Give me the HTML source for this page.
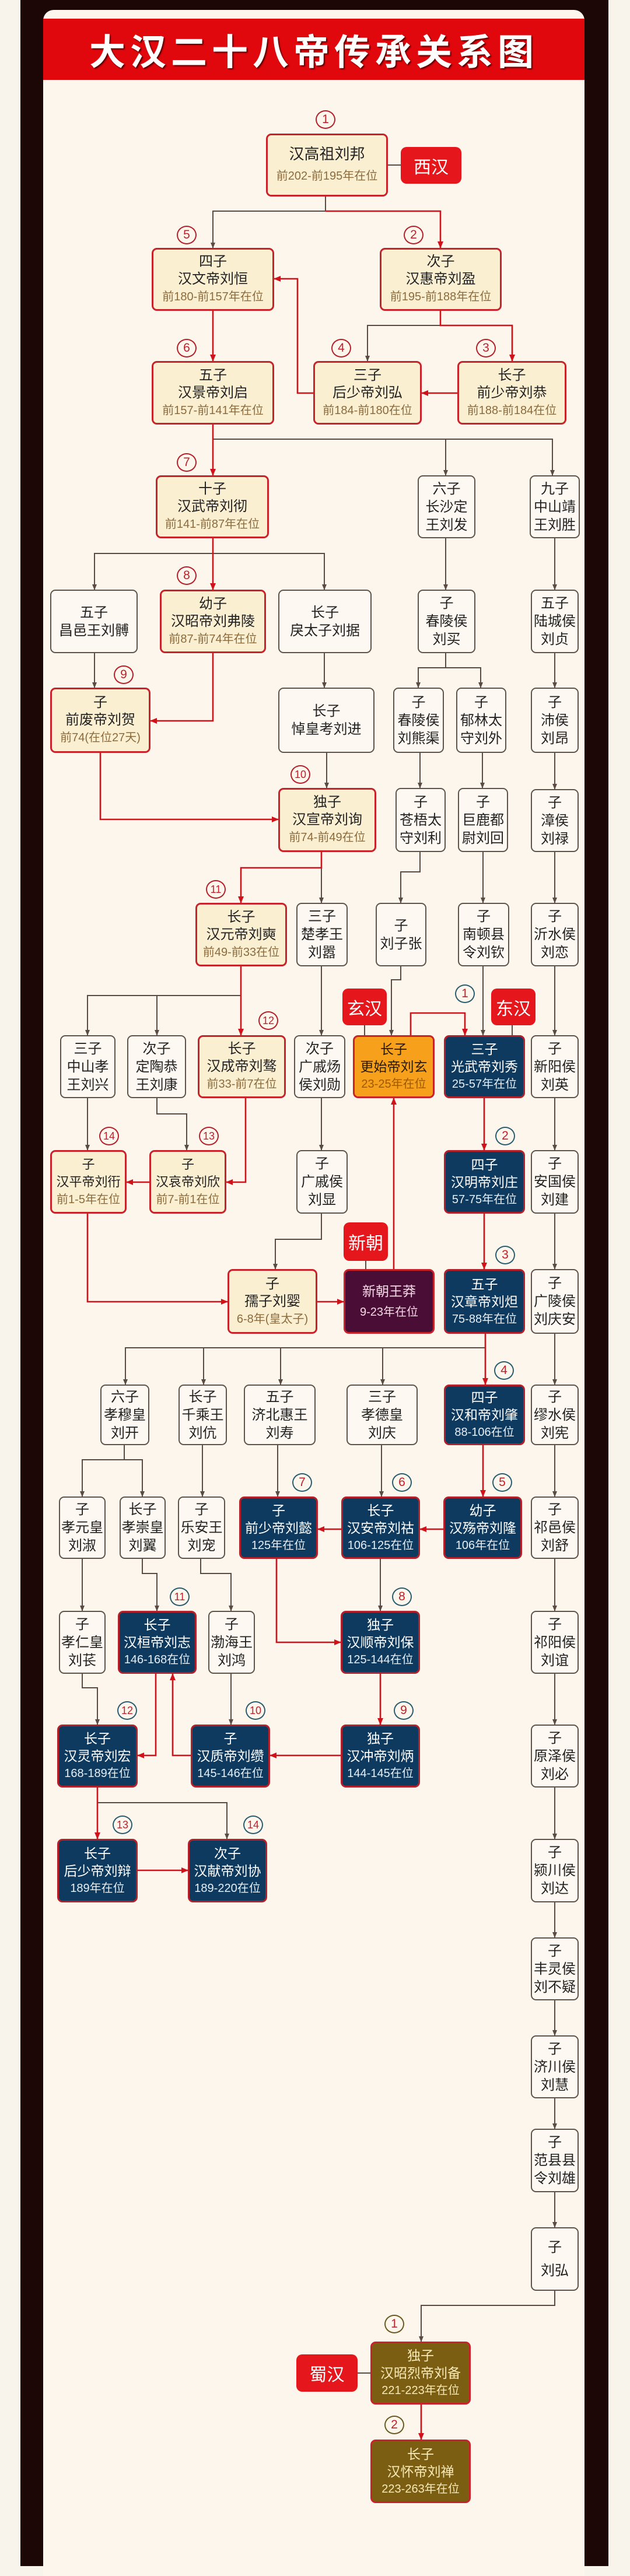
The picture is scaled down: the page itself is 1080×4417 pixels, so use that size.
<!DOCTYPE html>
<html><head><meta charset="utf-8">
<style>
*{margin:0;padding:0;box-sizing:border-box}
body{width:1080px;height:4359px;background:#f8f4ec;position:relative;overflow:hidden;font-family:"Liberation Sans","Noto Sans CJK SC",sans-serif;color:#222}
#frame{position:absolute;left:35px;top:0;width:1008px;height:4400px;background:#1c0606}
#panel{position:absolute;left:74px;top:17px;width:928px;height:4400px;background:#fcf6ec;border-radius:18px 18px 0 0}
#title{position:absolute;left:74px;top:32px;width:928px;height:105px;background:#e0070d;color:#fff;font-family:"Noto Sans CJK SC",sans-serif;font-weight:bold;font-size:62px;letter-spacing:8px;text-align:center;line-height:105px;text-shadow:2px 2px 2px #5a0000}
.n{position:absolute;border-radius:9px;display:flex;flex-direction:column;justify-content:center;align-items:center;text-align:center;line-height:30px;white-space:nowrap}
.e{background:#fbefd2;border:3px solid #c8232b;font-size:24px}
.p{background:#fdf9f2;border:2px solid #5f544c;font-size:24px;line-height:31px}
.b{background:#0e3a5f;border:3px solid #b3202a;color:#fff;font-size:23px}
.o{background:#f6a01c;border:3px solid #c8232b;color:#2a1a00;font-size:23px}
.m{background:#4a0d35;border:3px solid #c8232b;color:#f6d9e6;font-size:23px}
.v{background:#7b5e12;border:3px solid #c8232b;color:#f7eab8;font-size:23px}
.d{font-size:20px;color:#8b6b3c}
.b .d{color:#e6eef6}
.o .d{color:#9a5a00}
.m .d{color:#f6d9e6}
.v .d{color:#f7eab8}
.g{position:absolute;background:#e5161c;color:#fff;border-radius:10px;font-size:30px;display:flex;align-items:center;justify-content:center;font-family:"Noto Sans CJK SC",sans-serif}
.c{position:absolute;width:34px;height:32px;margin-left:-17px;margin-top:-16px;border:2px solid #b5202a;border-radius:50%;color:#c0202a;font-size:21px;line-height:28px;text-align:center;background:#fcf6ec}
.t{border-color:#2a5d70}
.s{border-color:#6b5a20}
svg{position:absolute;left:0;top:0}
</style></head><body>
<div id="frame"></div><div id="panel"></div>
<div id="title">大汉二十八帝传承关系图</div>

<svg width="1080" height="4359" viewBox="0 0 1080 4359">
<defs>
<marker id="a" markerWidth="10" markerHeight="10" refX="9" refY="5" orient="auto" markerUnits="userSpaceOnUse"><path d="M0,1 L10,5 L0,9 Z" fill="#5a4c44"/></marker>
<marker id="r" markerWidth="12" markerHeight="12" refX="11" refY="6" orient="auto" markerUnits="userSpaceOnUse"><path d="M0,1 L12,6 L0,11 Z" fill="#d0121b"/></marker>
</defs>
<g fill="none" stroke="#5a4c44" stroke-width="2">
<path d="M558,337 V362 H365 V425" marker-end="url(#a)"/>
<path d="M755,558 H630 V619" marker-end="url(#a)"/>
<path d="M365,753 H947 V815" marker-end="url(#a)"/>
<path d="M764,753 V815" marker-end="url(#a)"/>
<path d="M365,949 H162 V1011" marker-end="url(#a)"/>
<path d="M365,949 H556 V1011" marker-end="url(#a)"/>
<path d="M764,923 V1011" marker-end="url(#a)"/>
<path d="M951,923 V1011" marker-end="url(#a)"/>
<path d="M162,1120 V1179" marker-end="url(#a)"/>
<path d="M556,1120 V1179" marker-end="url(#a)"/>
<path d="M764,1120 V1145 H717 V1179" marker-end="url(#a)"/>
<path d="M764,1145 H824 V1179" marker-end="url(#a)"/>
<path d="M951,1120 V1179" marker-end="url(#a)"/>
<path d="M560,1291 V1351" marker-end="url(#a)"/>
<path d="M720,1291 V1351" marker-end="url(#a)"/>
<path d="M827,1291 V1351" marker-end="url(#a)"/>
<path d="M951,1291 V1353" marker-end="url(#a)"/>
<path d="M551,1488 V1548" marker-end="url(#a)"/>
<path d="M720,1461 V1495 H687 V1548" marker-end="url(#a)"/>
<path d="M828,1461 V1548" marker-end="url(#a)"/>
<path d="M951,1461 V1548" marker-end="url(#a)"/>
<path d="M413,1707 H150 V1775" marker-end="url(#a)"/>
<path d="M269,1707 V1775" marker-end="url(#a)"/>
<path d="M551,1657 V1775" marker-end="url(#a)"/>
<path d="M687,1657 V1680 H671 V1775" marker-end="url(#a)"/>
<path d="M828,1657 V1775" marker-end="url(#a)"/>
<path d="M951,1657 V1775" marker-end="url(#a)"/>
<path d="M150,1883 V1972" marker-end="url(#a)"/>
<path d="M269,1883 V1910 H320 V1972" marker-end="url(#a)"/>
<path d="M551,1883 V1972" marker-end="url(#a)"/>
<path d="M951,1883 V1972" marker-end="url(#a)"/>
<path d="M551,2081 V2125 H472 V2176" marker-end="url(#a)"/>
<path d="M951,2081 V2176" marker-end="url(#a)"/>
<path d="M832,2311 H215 V2374" marker-end="url(#a)"/>
<path d="M349,2311 V2374" marker-end="url(#a)"/>
<path d="M481,2311 V2374" marker-end="url(#a)"/>
<path d="M656,2311 V2374" marker-end="url(#a)"/>
<path d="M951,2287 V2374" marker-end="url(#a)"/>
<path d="M213,2478 V2503 H141 V2566" marker-end="url(#a)"/>
<path d="M213,2503 H244 V2566" marker-end="url(#a)"/>
<path d="M347,2478 V2566" marker-end="url(#a)"/>
<path d="M476,2478 V2566" marker-end="url(#a)"/>
<path d="M654,2478 V2566" marker-end="url(#a)"/>
<path d="M951,2478 V2566" marker-end="url(#a)"/>
<path d="M141,2673 V2762" marker-end="url(#a)"/>
<path d="M244,2673 V2698 H269 V2762" marker-end="url(#a)"/>
<path d="M344,2673 V2698 H396 V2762" marker-end="url(#a)"/>
<path d="M652,2673 V2762" marker-end="url(#a)"/>
<path d="M951,2673 V2762" marker-end="url(#a)"/>
<path d="M141,2870 V2894 H167 V2957" marker-end="url(#a)"/>
<path d="M396,2870 V2957" marker-end="url(#a)"/>
<path d="M951,2870 V2957" marker-end="url(#a)"/>
<path d="M167,3091 H389 V3153" marker-end="url(#a)"/>
<path d="M951,3065 V3153" marker-end="url(#a)"/>
<path d="M951,3262 V3322" marker-end="url(#a)"/>
<path d="M951,3430 V3490" marker-end="url(#a)"/>
<path d="M951,3598 V3650" marker-end="url(#a)"/>
<path d="M951,3759 V3819" marker-end="url(#a)"/>
<path d="M951,3928 V3953 H722 V4015" marker-end="url(#a)"/>
<path d="M665,283 H687"/>
<path d="M625,1758 V1775"/>
<path d="M878,1758 V1775"/>
<path d="M627,2162 V2176"/>
<path d="M613,4069 H635"/>
</g>
<g fill="none" stroke="#d0121b" stroke-width="2.6">
<path d="M558,362 H755 V425" marker-end="url(#r)"/>
<path d="M755,533 V558 H878 V619" marker-end="url(#r)"/>
<path d="M365,533 V619" marker-end="url(#r)"/>
<path d="M784,674 H723" marker-end="url(#r)"/>
<path d="M537,674 H510 V478 H470" marker-end="url(#r)"/>
<path d="M365,728 V815" marker-end="url(#r)"/>
<path d="M365,923 V1011" marker-end="url(#r)"/>
<path d="M365,1120 V1236 H258" marker-end="url(#r)"/>
<path d="M172,1291 V1405 H477" marker-end="url(#r)"/>
<path d="M551,1461 V1488 H413 V1548" marker-end="url(#r)"/>
<path d="M413,1657 V1775" marker-end="url(#r)"/>
<path d="M704,1775 V1737 H797 V1775" marker-end="url(#r)"/>
<path d="M421,1883 V2027 H388" marker-end="url(#r)"/>
<path d="M256,2027 H217" marker-end="url(#r)"/>
<path d="M830,1883 V1972" marker-end="url(#r)"/>
<path d="M150,2081 V2232 H390" marker-end="url(#r)"/>
<path d="M544,2232 H589" marker-end="url(#r)"/>
<path d="M675,2176 V1883" marker-end="url(#r)"/>
<path d="M830,2081 V2176" marker-end="url(#r)"/>
<path d="M832,2287 V2374" marker-end="url(#r)"/>
<path d="M828,2478 V2566" marker-end="url(#r)"/>
<path d="M760,2622 H720" marker-end="url(#r)"/>
<path d="M585,2622 H545" marker-end="url(#r)"/>
<path d="M474,2673 V2816 H584" marker-end="url(#r)"/>
<path d="M652,2870 V2957" marker-end="url(#r)"/>
<path d="M267,2870 V3010 H236" marker-end="url(#r)"/>
<path d="M327,3010 H296 V2870" marker-end="url(#r)"/>
<path d="M584,3010 H463" marker-end="url(#r)"/>
<path d="M167,3065 V3153" marker-end="url(#r)"/>
<path d="M236,3207 H322" marker-end="url(#r)"/>
<path d="M722,4123 V4183" marker-end="url(#r)"/>
</g>
</svg>

<div class="g" style="left:687px;top:252px;width:104px;height:63px">西汉</div>
<div class="g" style="left:587px;top:1695px;width:76px;height:63px">玄汉</div>
<div class="g" style="left:842px;top:1695px;width:76px;height:63px">东汉</div>
<div class="g" style="left:589px;top:2096px;width:76px;height:66px">新朝</div>
<div class="g" style="left:508px;top:4037px;width:105px;height:64px">蜀汉</div>

<div class="c" style="left:558px;top:205px">1</div>
<div class="c" style="left:320px;top:403px">5</div>
<div class="c" style="left:709px;top:403px">2</div>
<div class="c" style="left:320px;top:597px">6</div>
<div class="c" style="left:585px;top:597px">4</div>
<div class="c" style="left:833px;top:597px">3</div>
<div class="c" style="left:320px;top:793px">7</div>
<div class="c" style="left:320px;top:987px">8</div>
<div class="c" style="left:212px;top:1157px">9</div>
<div class="c" style="left:515px;top:1328px;font-size:18px">10</div>
<div class="c" style="left:370px;top:1525px;font-size:18px">11</div>
<div class="c" style="left:460px;top:1750px;font-size:18px">12</div>
<div class="c" style="left:358px;top:1948px;font-size:18px">13</div>
<div class="c" style="left:187px;top:1948px;font-size:18px">14</div>
<div class="c t" style="left:797px;top:1704px">1</div>
<div class="c t" style="left:866px;top:1948px">2</div>
<div class="c t" style="left:866px;top:2152px">3</div>
<div class="c t" style="left:864px;top:2350px">4</div>
<div class="c t" style="left:861px;top:2542px">5</div>
<div class="c t" style="left:689px;top:2542px">6</div>
<div class="c t" style="left:518px;top:2542px">7</div>
<div class="c t" style="left:689px;top:2738px">8</div>
<div class="c t" style="left:308px;top:2738px;font-size:18px">11</div>
<div class="c t" style="left:692px;top:2933px">9</div>
<div class="c t" style="left:438px;top:2933px;font-size:18px">10</div>
<div class="c t" style="left:218px;top:2933px;font-size:18px">12</div>
<div class="c t" style="left:210px;top:3129px;font-size:18px">13</div>
<div class="c t" style="left:434px;top:3129px;font-size:18px">14</div>
<div class="c s" style="left:676px;top:3985px">1</div>
<div class="c s" style="left:676px;top:4158px">2</div>

<div class="n e" style="left:456px;top:229px;width:209px;height:108px;line-height:38px"><div style="font-size:26px">汉高祖刘邦</div><div class="d">前202-前195年在位</div></div>
<div class="n e" style="left:260px;top:425px;width:210px;height:108px"><div>四子</div><div>汉文帝刘恒</div><div class="d">前180-前157年在位</div></div>
<div class="n e" style="left:651px;top:425px;width:209px;height:108px"><div>次子</div><div>汉惠帝刘盈</div><div class="d">前195-前188年在位</div></div>
<div class="n e" style="left:260px;top:619px;width:210px;height:109px"><div>五子</div><div>汉景帝刘启</div><div class="d">前157-前141年在位</div></div>
<div class="n e" style="left:537px;top:619px;width:186px;height:109px"><div>三子</div><div>后少帝刘弘</div><div class="d">前184-前180在位</div></div>
<div class="n e" style="left:784px;top:619px;width:187px;height:109px"><div>长子</div><div>前少帝刘恭</div><div class="d">前188-前184在位</div></div>
<div class="n e" style="left:267px;top:815px;width:194px;height:108px"><div>十子</div><div>汉武帝刘彻</div><div class="d">前141-前87年在位</div></div>
<div class="n p" style="left:716px;top:815px;width:99px;height:108px"><div>六子</div><div>长沙定</div><div>王刘发</div></div>
<div class="n p" style="left:908px;top:815px;width:86px;height:108px"><div>九子</div><div>中山靖</div><div>王刘胜</div></div>
<div class="n p" style="left:86px;top:1011px;width:150px;height:109px"><div>五子</div><div>昌邑王刘髆</div></div>
<div class="n e" style="left:274px;top:1011px;width:182px;height:109px"><div>幼子</div><div>汉昭帝刘弗陵</div><div class="d">前87-前74年在位</div></div>
<div class="n p" style="left:477px;top:1011px;width:160px;height:109px"><div>长子</div><div>戾太子刘据</div></div>
<div class="n p" style="left:716px;top:1011px;width:99px;height:109px"><div>子</div><div>春陵侯</div><div>刘买</div></div>
<div class="n p" style="left:910px;top:1011px;width:82px;height:109px"><div>五子</div><div>陆城侯</div><div>刘贞</div></div>
<div class="n e" style="left:86px;top:1179px;width:172px;height:112px"><div>子</div><div>前废帝刘贺</div><div class="d">前74(在位27天)</div></div>
<div class="n p" style="left:477px;top:1179px;width:165px;height:112px"><div>长子</div><div>悼皇考刘进</div></div>
<div class="n p" style="left:674px;top:1179px;width:87px;height:112px"><div>子</div><div>春陵侯</div><div>刘熊渠</div></div>
<div class="n p" style="left:782px;top:1179px;width:86px;height:112px"><div>子</div><div>郁林太</div><div>守刘外</div></div>
<div class="n p" style="left:910px;top:1179px;width:82px;height:112px"><div>子</div><div>沛侯</div><div>刘昂</div></div>
<div class="n e" style="left:477px;top:1351px;width:168px;height:110px"><div>独子</div><div>汉宣帝刘询</div><div class="d">前74-前49在位</div></div>
<div class="n p" style="left:678px;top:1351px;width:86px;height:110px"><div>子</div><div>苍梧太</div><div>守刘利</div></div>
<div class="n p" style="left:785px;top:1351px;width:86px;height:110px"><div>子</div><div>巨鹿都</div><div>尉刘回</div></div>
<div class="n p" style="left:910px;top:1353px;width:82px;height:108px"><div>子</div><div>漳侯</div><div>刘禄</div></div>
<div class="n e" style="left:335px;top:1548px;width:157px;height:109px"><div>长子</div><div>汉元帝刘奭</div><div class="d">前49-前33在位</div></div>
<div class="n p" style="left:508px;top:1548px;width:88px;height:109px"><div>三子</div><div>楚孝王</div><div>刘嚣</div></div>
<div class="n p" style="left:644px;top:1548px;width:87px;height:109px"><div>子</div><div>刘子张</div></div>
<div class="n p" style="left:785px;top:1548px;width:88px;height:109px"><div>子</div><div>南顿县</div><div>令刘钦</div></div>
<div class="n p" style="left:910px;top:1548px;width:82px;height:109px"><div>子</div><div>沂水侯</div><div>刘恋</div></div>
<div class="n p" style="left:103px;top:1775px;width:95px;height:108px"><div>三子</div><div>中山孝</div><div>王刘兴</div></div>
<div class="n p" style="left:218px;top:1775px;width:101px;height:108px"><div>次子</div><div>定陶恭</div><div>王刘康</div></div>
<div class="n e" style="left:339px;top:1775px;width:151px;height:108px"><div>长子</div><div>汉成帝刘骜</div><div class="d">前33-前7在位</div></div>
<div class="n p" style="left:504px;top:1775px;width:88px;height:108px"><div>次子</div><div>广戚炀</div><div>侯刘勋</div></div>
<div class="n o" style="left:605px;top:1775px;width:140px;height:108px"><div>长子</div><div>更始帝刘玄</div><div class="d">23-25年在位</div></div>
<div class="n b" style="left:761px;top:1775px;width:139px;height:108px"><div>三子</div><div>光武帝刘秀</div><div class="d">25-57年在位</div></div>
<div class="n p" style="left:910px;top:1775px;width:82px;height:108px"><div>子</div><div>新阳侯</div><div>刘英</div></div>
<div class="n e" style="left:86px;top:1972px;width:131px;height:109px;font-size:22px"><div>子</div><div>汉平帝刘衎</div><div class="d">前1-5年在位</div></div>
<div class="n e" style="left:256px;top:1972px;width:132px;height:109px;font-size:22px"><div>子</div><div>汉哀帝刘欣</div><div class="d">前7-前1在位</div></div>
<div class="n p" style="left:508px;top:1972px;width:88px;height:109px"><div>子</div><div>广戚侯</div><div>刘显</div></div>
<div class="n b" style="left:761px;top:1972px;width:139px;height:109px"><div>四子</div><div>汉明帝刘庄</div><div class="d">57-75年在位</div></div>
<div class="n p" style="left:910px;top:1972px;width:82px;height:109px"><div>子</div><div>安国侯</div><div>刘建</div></div>
<div class="n e" style="left:390px;top:2176px;width:154px;height:111px"><div>子</div><div>孺子刘婴</div><div class="d">6-8年(皇太子)</div></div>
<div class="n m" style="left:589px;top:2176px;width:156px;height:111px;line-height:36px"><div>新朝王莽</div><div class="d">9-23年在位</div></div>
<div class="n b" style="left:761px;top:2176px;width:139px;height:111px"><div>五子</div><div>汉章帝刘炟</div><div class="d">75-88年在位</div></div>
<div class="n p" style="left:910px;top:2176px;width:82px;height:111px"><div>子</div><div>广陵侯</div><div>刘庆安</div></div>
<div class="n p" style="left:172px;top:2374px;width:84px;height:104px"><div>六子</div><div>孝穆皇</div><div>刘开</div></div>
<div class="n p" style="left:306px;top:2374px;width:83px;height:104px"><div>长子</div><div>千乘王</div><div>刘伉</div></div>
<div class="n p" style="left:418px;top:2374px;width:123px;height:104px"><div>五子</div><div>济北惠王</div><div>刘寿</div></div>
<div class="n p" style="left:594px;top:2374px;width:122px;height:104px"><div>三子</div><div>孝德皇</div><div>刘庆</div></div>
<div class="n b" style="left:761px;top:2374px;width:139px;height:104px"><div>四子</div><div>汉和帝刘肇</div><div class="d">88-106在位</div></div>
<div class="n p" style="left:910px;top:2374px;width:82px;height:104px"><div>子</div><div>缪水侯</div><div>刘宪</div></div>
<div class="n p" style="left:101px;top:2566px;width:80px;height:107px"><div>子</div><div>孝元皇</div><div>刘淑</div></div>
<div class="n p" style="left:205px;top:2566px;width:79px;height:107px"><div>长子</div><div>孝崇皇</div><div>刘翼</div></div>
<div class="n p" style="left:305px;top:2566px;width:81px;height:107px"><div>子</div><div>乐安王</div><div>刘宠</div></div>
<div class="n b" style="left:410px;top:2566px;width:135px;height:107px"><div>子</div><div>前少帝刘懿</div><div class="d">125年在位</div></div>
<div class="n b" style="left:585px;top:2566px;width:135px;height:107px"><div>长子</div><div>汉安帝刘祜</div><div class="d">106-125在位</div></div>
<div class="n b" style="left:760px;top:2566px;width:135px;height:107px"><div>幼子</div><div>汉殇帝刘隆</div><div class="d">106年在位</div></div>
<div class="n p" style="left:910px;top:2566px;width:82px;height:107px"><div>子</div><div>祁邑侯</div><div>刘舒</div></div>
<div class="n p" style="left:101px;top:2762px;width:80px;height:108px"><div>子</div><div>孝仁皇</div><div>刘苌</div></div>
<div class="n b" style="left:202px;top:2762px;width:135px;height:108px"><div>长子</div><div>汉桓帝刘志</div><div class="d">146-168在位</div></div>
<div class="n p" style="left:357px;top:2762px;width:80px;height:108px"><div>子</div><div>渤海王</div><div>刘鸿</div></div>
<div class="n b" style="left:584px;top:2762px;width:136px;height:108px"><div>独子</div><div>汉顺帝刘保</div><div class="d">125-144在位</div></div>
<div class="n p" style="left:910px;top:2762px;width:82px;height:108px"><div>子</div><div>祁阳侯</div><div>刘谊</div></div>
<div class="n b" style="left:98px;top:2957px;width:138px;height:108px"><div>长子</div><div>汉灵帝刘宏</div><div class="d">168-189在位</div></div>
<div class="n b" style="left:327px;top:2957px;width:136px;height:108px"><div>子</div><div>汉质帝刘缵</div><div class="d">145-146在位</div></div>
<div class="n b" style="left:584px;top:2957px;width:136px;height:108px"><div>独子</div><div>汉冲帝刘炳</div><div class="d">144-145在位</div></div>
<div class="n p" style="left:910px;top:2957px;width:82px;height:108px"><div>子</div><div>原泽侯</div><div>刘必</div></div>
<div class="n b" style="left:98px;top:3153px;width:138px;height:109px"><div>长子</div><div>后少帝刘辩</div><div class="d">189年在位</div></div>
<div class="n b" style="left:322px;top:3153px;width:136px;height:109px"><div>次子</div><div>汉献帝刘协</div><div class="d">189-220在位</div></div>
<div class="n p" style="left:910px;top:3153px;width:82px;height:109px"><div>子</div><div>颍川侯</div><div>刘达</div></div>
<div class="n p" style="left:910px;top:3322px;width:82px;height:108px"><div>子</div><div>丰灵侯</div><div>刘不疑</div></div>
<div class="n p" style="left:910px;top:3490px;width:82px;height:108px"><div>子</div><div>济川侯</div><div>刘慧</div></div>
<div class="n p" style="left:910px;top:3650px;width:82px;height:109px"><div>子</div><div>范县县</div><div>令刘雄</div></div>
<div class="n p" style="left:910px;top:3819px;width:82px;height:109px;line-height:40px"><div>子</div><div>刘弘</div></div>
<div class="n v" style="left:635px;top:4015px;width:172px;height:108px"><div>独子</div><div>汉昭烈帝刘备</div><div class="d">221-223年在位</div></div>
<div class="n v" style="left:635px;top:4183px;width:172px;height:109px"><div>长子</div><div>汉怀帝刘禅</div><div class="d">223-263年在位</div></div>
</body></html>
